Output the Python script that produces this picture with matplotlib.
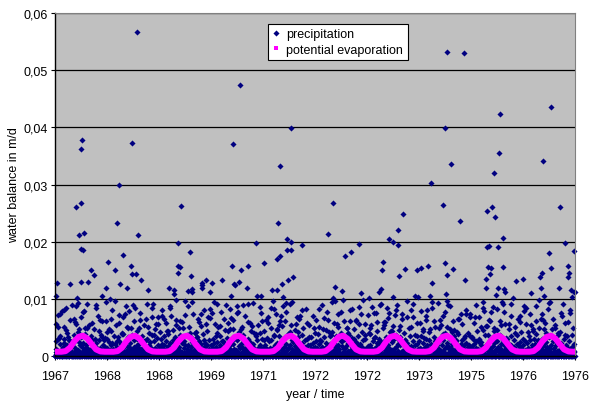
import numpy as np
import matplotlib.pyplot as plt
from matplotlib.lines import Line2D

plt.rcParams['font.family'] = ['Liberation Sans', 'DejaVu Sans']

# axis labels as Excel printed them (one tick every 365 days)
x_tick_labels = ['1967', '1968', '1968', '1969', '1971', '1972',
                 '1972', '1973', '1975', '1976', '1976']
y_tick_labels = ['0', '0,01', '0,02', '0,03', '0,04', '0,05', '0,06']
days_per_tick = 365

# heavy rain days (> 10 mm/d): day number since 1.1.1967, mm/d
storm_day = [9, 14, 103, 147, 157, 166, 180, 181, 183, 184,
             187, 199, 201, 232, 253, 276, 330, 356, 374, 388,
             423, 437, 451, 456, 480, 503, 531, 540, 541, 571,
             573, 583, 606, 653, 798, 833, 834, 861, 863, 866,
             877, 882, 936, 945, 952, 959, 960, 1032, 1033, 1034,
             1060, 1086, 1104, 1170, 1237, 1242, 1249, 1259, 1265, 1292,
             1301, 1303, 1350, 1357, 1409, 1418, 1448, 1469, 1523, 1556,
             1558, 1568, 1579, 1582, 1593, 1603, 1626, 1631, 1638, 1654,
             1656, 1659, 1671, 1734, 1914, 1951, 1953, 1967, 2014, 2035,
             2076, 2136, 2146, 2206, 2274, 2288, 2295, 2302, 2342, 2370,
             2372, 2408, 2409, 2412, 2443, 2455, 2525, 2541, 2548, 2567,
             2616, 2634, 2641, 2646, 2726, 2735, 2740, 2744, 2749, 2754,
             2782, 2791, 2841, 2869, 2880, 3023, 3025, 3032, 3033, 3042,
             3049, 3050, 3060, 3067, 3081, 3088, 3093, 3109, 3112, 3118,
             3121, 3142, 3145, 3149, 3157, 3217, 3236, 3285, 3341, 3406,
             3409, 3416, 3423, 3434, 3470, 3481, 3482, 3538, 3542, 3582,
             3601, 3602, 3608, 3622, 3631, 3641, 3645, 3649]
storm_mm = [10.5, 12.8, 12.6, 26.1, 10.1, 21.2, 36.2, 13.0, 26.7, 18.8,
            37.8, 18.5, 21.6, 13.0, 15.1, 14.2, 10.6, 11.9, 16.4, 10.0,
            15.0, 23.2, 30.0, 12.6, 17.7, 11.9, 15.7, 37.2, 14.4, 14.4,
            56.6, 21.1, 13.3, 11.5, 11.9, 11.6, 10.8, 15.8, 14.6, 19.7,
            15.6, 26.2, 11.4, 18.2, 14.0, 11.7, 11.3, 12.8, 12.5, 11.9,
            13.4, 11.2, 12.8, 13.4, 10.5, 15.7, 37.0, 12.7, 12.4, 13.0,
            47.3, 15.1, 11.9, 15.8, 19.8, 10.6, 10.6, 16.3, 11.6, 11.6,
            17.0, 23.3, 33.2, 17.6, 12.7, 10.4, 20.5, 18.5, 13.4, 39.9,
            18.5, 20.0, 13.8, 19.5, 21.3, 26.8, 10.2, 12.1, 11.4, 17.5,
            18.3, 19.6, 11.1, 10.1, 11.3, 11.7, 15.0, 16.4, 20.5, 10.4,
            20.0, 22.0, 19.5, 14.0, 24.9, 15.3, 10.5, 15.1, 10.4, 15.4,
            15.7, 10.5, 30.3, 12.8, 26.5, 39.8, 16.3, 10.8, 14.2, 53.2,
            33.5, 15.2, 23.6, 52.9, 13.3, 12.0, 13.5, 25.3, 19.0, 15.6,
            19.2, 14.3, 15.4, 26.0, 32.0, 24.4, 10.7, 11.9, 19.0, 35.5,
            42.3, 20.6, 15.6, 11.8, 11.2, 10.1, 13.2, 13.5, 11.1, 13.9,
            12.0, 14.6, 34.1, 10.6, 18.1, 43.5, 15.5, 11.9, 26.1, 19.8,
            15.7, 13.8, 14.6, 11.6, 10.4, 18.4, 11.2, 11.2]

# showers (2.5 - 10 mm/d) on odd days
shower_day = [22, 61, 75, 142, 163, 171, 196, 238, 290, 318,
              395, 418, 476, 505, 519, 560, 587, 640, 690, 712,
              752, 790, 811, 846, 874, 899, 931, 988, 1027, 1071,
              1116, 1161, 1189, 1228, 1246, 1279, 1316, 1367, 1394, 1440,
              1481, 1528, 1549, 1574, 1600, 1615, 1647, 1685, 1720, 1769,
              1851, 1889, 1921, 1944, 1979, 2010, 2046, 2071, 2110, 2160,
              2214, 2250, 2287, 2319, 2331, 2355, 2389, 2420, 2469, 2515,
              2580, 2613, 2660, 2688, 2711, 2737, 2760, 2787, 2825, 2882,
              2955, 2990, 3012, 3046, 3071, 3101, 3134, 3161, 3200, 3262,
              3307, 3352, 3399, 3420, 3441, 3463, 3495, 3531, 3566, 3618,
              7, 29, 48, 83, 99, 131, 148, 188, 209, 223, 257, 275, 303, 333, 357,
              368, 400, 433, 452, 467, 494, 513, 545, 573, 599, 625, 652, 678, 697, 723,
              741, 764, 783, 807, 833, 852, 880, 911, 945, 963, 999, 1013, 1047, 1061, 1088,
              1105, 1127, 1143, 1175, 1199, 1213, 1233, 1259, 1283, 1305, 1329, 1356, 1381, 1409, 1452,
              1467, 1494, 1515, 1539, 1559, 1584, 1606, 1622, 1655, 1669, 1696, 1709, 1737, 1784, 1817,
              1835, 1862, 1884, 1909, 1934, 1964, 1989, 2015, 2031, 2057, 2083, 2096, 2133, 2149, 2176,
              2201, 2226, 2245, 2262, 2283, 2307, 2343, 2362, 2397, 2409, 2433, 2456, 2483, 2500, 2544,
              2563, 2588, 2601, 2624, 2645, 2668, 2701, 2724, 2748, 2770, 2799, 2814, 2852, 2876, 2910,
              2930, 2951, 2979, 3001, 3024, 3036, 3058, 3079, 3092, 3120, 3146, 3172, 3186, 3231, 3266,
              3295, 3318, 3340, 3364, 3377, 3388, 3410, 3431, 3455, 3472, 3506, 3520, 3553, 3579, 3604]
shower_mm = [7.2, 5.1, 8.4, 6.0, 9.3, 4.7, 7.7, 5.5, 8.9, 6.3,
             4.4, 9.6, 6.8, 5.2, 7.9, 8.5, 4.9, 6.6, 9.1, 5.7,
             8.0, 4.5, 7.1, 9.8, 6.2, 5.0, 8.7, 4.3, 7.4, 6.9,
             9.4, 5.3, 6.5, 8.2, 4.8, 7.6, 9.0, 5.9, 4.1, 8.6,
             6.4, 9.7, 7.3, 5.4, 8.8, 6.1, 9.2, 4.6, 7.0, 5.8,
             8.3, 6.7, 4.2, 9.5, 5.6, 7.8, 4.9, 8.1, 6.3, 9.9,
             5.0, 7.5, 9.1, 6.0, 8.4, 4.4, 7.2, 5.3, 9.6, 6.8,
             4.7, 8.0, 6.2, 9.3, 5.5, 7.7, 8.9, 4.3, 6.6, 7.4,
             9.0, 5.1, 7.9, 6.4, 8.6, 4.6, 9.4, 5.7, 7.1, 6.0,
             8.5, 4.8, 9.8, 7.3, 5.9, 8.2, 6.5, 4.1, 9.2, 7.6,
             5.6, 3.2, 7.9, 4.1, 2.8, 6.5, 8.8, 3.6, 5.0, 9.2, 2.9, 4.7, 7.0, 3.4, 6.1,
             4.3, 8.1, 2.6, 5.8, 3.9, 7.4, 4.9, 9.0, 3.1, 6.3, 2.7, 5.2, 8.4, 3.7, 6.8,
             3.0, 6.6, 4.5, 8.7, 2.5, 5.4, 3.8, 7.2, 4.0, 9.4, 3.3, 6.0, 2.9, 5.7, 8.2,
             7.6, 3.5, 5.1, 2.7, 8.9, 4.4, 6.7, 3.0, 7.8, 4.8, 2.6, 9.1, 5.3, 3.9, 6.2,
             2.8, 5.9, 8.5, 3.6, 4.6, 7.1, 3.2, 9.3, 5.5, 2.5, 6.9, 4.2, 8.0, 3.4, 5.0,
             6.4, 2.9, 4.8, 7.7, 3.7, 9.6, 5.2, 2.6, 6.1, 4.0, 8.3, 3.1, 5.6, 7.3, 3.8,
             4.1, 8.6, 3.3, 6.0, 2.7, 5.4, 7.5, 4.5, 9.0, 3.0, 6.6, 2.8, 4.9, 8.1, 3.5,
             5.8, 3.2, 7.0, 4.3, 9.4, 2.6, 6.3, 3.9, 5.1, 8.8, 4.6, 2.9, 7.4, 3.6, 6.8,
             3.4, 6.9, 2.5, 8.4, 5.3, 3.8, 7.8, 4.4, 2.7, 6.2, 9.2, 3.1, 5.7, 4.0, 7.1,
             7.9, 4.2, 5.5, 3.0, 8.7, 2.8, 6.5, 4.7, 3.3, 9.5, 5.0, 2.6, 7.6, 3.7, 6.0]

# remaining rain, read every second day (mm/d)
light_step = 2
light_mm = [
    0, 0, .4, 1.3, 2.6, .8, 0, 0, 0, .3, 5.2, 3.1, 1.0, 0, .6, 0, 0, 2.2, 7.4, 3.6, 1.1, .5, 0, 0, 0, 0, .9, 1.7, .4, 0, 3.0, 8.1, 2.4, 0, .7, 1.5, 0, 0, .2, 0, 4.6, 1.9, .6, 0, 0, 1.2, 3.4, .5, 0, 0, 0, 2.7, 6.3, 1.4, .8, 0, .3, 1.0, 0, 0, 9.0,
    2.1, .5, 0, 0, 1.6, 3.8, .7, 0, 0, 0, .4, 2.9, 5.7, 1.3, 0, .6, 0, 0, 0, 1.1, .3, 4.2, 2.5, 0, 0, .8, 1.9, 0, 0, 0, 3.3, 6.8, 1.7, .4, 0, 0, 1.0, 2.3, .2, 0, 0, .5, 7.9, 3.9, 1.2, 0, 0, 0, .6, 2.0, .9, 0, 1.4, 4.9, .7, 0, 0, 0, .3, 2.6, 1.1,
    0, 0, .7, 3.5, 1.2, 0, 0, 5.9, 2.2, .6, 0, 0, 0, .4, 1.8, 0, .9, 3.1, 0, 0, 0, 2.4, 8.4, 1.6, .5, 0, 0, 1.3, .3, 0, 0, 4.4, 2.8, .8, 0, 0, .6, 1.5, 3.7, 0, 0, 0, .2, 1.1, 6.1, 2.0, .4, 0, 0, 0, 2.9, .7, 1.6, 0, 0, 3.2, 9.5, 1.0, 0, .5, 0,
    1.4, 3.0, .6, 0, 0, 0, .8, 2.5, 4.7, 1.1, 0, 0, .3, 0, 1.9, 6.6, 2.3, .5, 0, 0, 0, 1.2, .4, 0, 3.6, 1.0, 0, 0, .7, 2.2, 5.4, .9, 0, 0, 0, .5, 1.7, 3.3, 0, 0, 1.0, 7.2, 2.6, .3, 0, 0, 0, .9, 1.4, 0, 2.1, 4.1, .6, 0, 0, 0, 1.5, 3.9, .8, 0, .2,
    0, 0, 0, .6, 2.7, 8.8, 1.9, .4, 0, 0, 1.1, 3.4, .7, 0, 0, .5, 1.6, 0, 0, 0, 2.3, 5.0, 1.3, 0, .8, 0, 0, 3.8, 1.0, .3, 0, 0, 1.7, 6.2, 2.9, .6, 0, 0, 0, .4, 1.2, 0, 2.0, 4.5, .9, 0, 0, 0, .7, 3.1, 1.5, 0, 0, 7.6, 2.4, .5, 0, 1.3, 0, 0, .9,
    3.6, 1.2, 0, 0, .4, 2.1, 5.5, .8, 0, 0, 0, 1.4, .6, 2.8, 0, 0, .3, 9.2, 3.0, 1.1, 0, 0, 0, .7, 1.9, 4.0, .5, 0, 0, 1.6, 2.5, 0, 0, 0, .9, 3.7, 6.9, 1.3, 0, 0, .2, 1.0, 0, 0, 2.6, .8, 4.8, 1.5, 0, 0, 0, .6, 3.2, 1.1, 0, 0, 5.6, 2.0, .4, 0, 0,
    0, .8, 1.7, 4.3, .9, 0, 0, 0, 2.2, 7.0, 1.4, .3, 0, 0, 1.1, .5, 0, 3.5, 2.0, 0, 0, 0, .6, 1.3, 5.8, 2.7, 0, 0, .4, 0, 0, 1.8, 3.9, .7, 0, 0, .9, 2.4, 8.5, 1.0, 0, 0, 0, .3, 1.5, 0, 0, 2.9, 4.6, 1.2, .6, 0, 0, 0, 1.0, 3.3, .5, 0, 0, 6.4, 1.8,
    .5, 0, 0, 0, 1.2, 2.8, .7, 0, 4.9, 1.6, 0, 0, .3, 1.0, 3.1, 0, 0, 0, .8, 6.0, 2.3, .4, 0, 0, 1.4, .6, 0, 2.6, 9.6, 1.9, .5, 0, 0, 0, .7, 1.3, 3.8, 0, 0, .9, 2.0, .2, 0, 0, 5.1, 1.1, 0, 0, 0, 3.4, 1.7, .6, 0, 0, .4, 2.5, 7.3, 1.0, 0, 0, .8,
    0, 2.2, 4.0, 1.3, .5, 0, 0, 0, .9, 1.8, 0, 0, 3.3, 6.5, 1.0, 0, 0, .4, 1.5, 2.7, 0, 0, 0, .6, 5.3, 2.1, .8, 0, 0, 1.2, .3, 0, 0, 3.9, 8.0, 1.6, 0, 0, 0, .7, 2.4, .5, 0, 1.1, 0, 0, 4.4, 1.9, .6, 0, 0, 0, 2.9, 1.3, 0, 0, .5, 6.7, 2.0, .9, 0,
    1.0, .4, 0, 0, 3.0, 1.4, 0, 0, 0, .8, 2.3, 5.6, .6, 0, 0, 1.7, .3, 0, 0, 4.1, 9.1, 2.5, .9, 0, 0, 0, 1.2, .5, 0, 2.0, 3.6, 0, 0, .7, 1.4, 7.8, 1.1, 0, 0, 0, .4, 2.6, 1.0, 0, 0, .9, 4.6, 2.2, .3, 0, 0, 0, 1.6, 3.2, .8, 0, 0, 5.9, 1.5, 0, .6,
    0, 0, .3, 1.9, 4.8, 1.2, 0, 0, 0, 2.7, .6, 0, .9, 6.3, 2.1, .5, 0, 0, 0, 1.3, 3.4, .7, 0, 0, .4, 1.1, 0, 0, 8.7, 2.9, 1.0, 0, 0, 0, .6, 1.8, 4.2, .3, 0, 0, 1.4, 2.2, 0, 0, 0, .8, 5.2, 1.7, .4, 0, 0, 3.7, 1.2, 0, 0, 0, .5, 2.4, 7.1, 1.0, 0,
    .7, 1.5, 0, 0, 0, 3.1, 6.0, 1.3, .4, 0, 0, 1.0, 2.5, 0, 0, .6, 0, 4.5, 1.8, 0, 0, 0, .3, 2.2, 9.3, 1.6, .5, 0, 0, 1.2, .7, 0, 0, 3.6, 1.1, 0, 0, 0, .9, 2.8, 5.5, .6, 0, 0, 1.7, .4, 0, 2.0, 0, 0, 4.0, 7.5, 1.4, 0, 0, 0, .8, 3.0, 1.1, .3, 0,
    0, 0, 1.6, 4.4, 2.0, .5, 0, 0, .9, 0, 0, 3.2, 1.2, 0, 0, 0, .6, 6.8, 2.6, 1.0, 0, 0, 1.4, .3, 0, 2.9, 5.0, .8, 0, 0, 0, 1.1, .5, 0, 0, 3.8, 8.2, 1.7, .4, 0, 0, 1.9, .7, 0, 0, 0, 2.4, 1.0, 4.7, .6, 0, 0, 0, 1.3, 3.5, 0, 0, .4, 6.1, 2.1, 0,
    1.2, .6, 0, 0, 2.5, 5.3, 1.1, 0, 0, 0, .4, 1.7, 3.0, 0, 0, .8, 0, 7.7, 2.2, .9, 0, 0, 0, 1.5, .3, 0, 3.9, 1.4, 0, 0, .6, 2.0, 4.3, 0, 0, 0, .5, 1.3, 9.4, 2.8, .7, 0, 0, 0, 1.0, .4, 0, 2.6, 1.8, 0, 0, 5.7, 1.2, .3, 0, 0, 0, .9, 3.3, 1.6, 0,
    0, .5, 2.1, 6.6, 1.5, 0, 0, 0, .8, 1.2, 0, 0, 3.7, 2.4, .6, 0, 0, 1.0, 4.9, 0, 0, 0, .3, 1.6, 2.8, .9, 0, 0, 8.3, 3.1, 1.1, 0, 0, 0, .7, 1.9, 0, 0, .4, 5.4, 2.0, 0, 0, 0, 1.3, .6, 3.4, 0, 0, .9, 0, 2.3, 7.0, 1.4, 0, 0, 0, .5, 1.7, 4.1, .8,
    2.6, 1.0, 0, 0, 0, .4, 1.4, 3.9, .7, 0, 0, 5.1, 2.2, .5, 0, 0, 1.1, .3, 0, 0, 2.7, 8.9, 1.6, 0, 0, 0, .8, 1.5, .4, 0, 3.3, 1.2, 0, 0, 0, .6, 4.6, 2.4, .9, 0, 0, 1.8, 0, 0, 6.4, 1.3, .5, 0, 0, 0, 2.1, 3.6, .7, 0, 0, 1.0, 0, 0, 4.2, 1.9, .3,
    0, 0, .9, 2.3, 5.8, 1.2, 0, 0, .5, 0, 1.6, 3.5, 0, 0, 0, .7, 2.0, 7.3, 1.1, .4, 0, 0, 1.3, .6, 0, 0, 4.0, 2.6, 0, 0, 0, .3, 1.8, 9.8, 2.9, .8, 0, 0, 0, 1.2, .5, 0, 3.1, 1.5, 0, 0, .6, 5.0, 1.9, 0, 0, 0, .9, 2.4, .4, 0, 0, 3.8, 6.2, 1.0, 0,
    .6, 1.1, 0, 0, 3.2, 1.6, .4, 0, 0, 0, 2.2, 4.8, .9, 0, 0, 1.4, .3, 0, 6.1, 2.5, 1.0, 0, 0, 0, .7, 1.9, 0, 0, 3.6, 8.6, 1.3, .5, 0, 0, 1.0, 2.1, 0, 0, 0, .4, 4.3, 1.7, .6, 0, 0, 2.8, .8, 0, 0, 0, 1.2, 5.6, 3.0, .3, 0, 0, .9, 1.5, 0, 0, 7.2,
    1.8, .5, 0, 0, 0, 1.2, 3.9, 2.0, 0, 0, .6, 5.5, 1.4, .3, 0, 0, 0, .9, 2.6, 0, 0, 1.3, 7.6, 3.2, .7, 0, 0, 0, .4, 1.6, 0, 0, 2.3, 4.5, 1.0, 0, 0, .8, 0, 0, 3.0, 9.0, 1.9, .6, 0, 0, 0, 1.1, 2.4, .3, 0, 0, 4.9, 1.5, 0, 0, .5, 2.7, 6.0, 1.2, 0,
    0, 0, .4, 1.7, 3.4, .8, 0, 0, 0, 2.0, 6.7, 1.5, 0, 0, .9, .3, 0, 1.2, 4.2, 0, 0, 0, .6, 2.5, 1.1, 0, 0, 5.3, 2.9, .7, 0, 0, 0, 1.4, .4, 0, 3.7, 8.1, 1.6, 0, 0, 0, .8, 2.2, 0, 0, 1.0, 4.6, .5, 0, 0, 0, 1.9, 3.3, .6, 0, 0, 7.4, 2.1, .9, 0,
    .8, 2.3, 0, 0, 0, 1.1, 4.1, .5, 0, 0, 2.8, 1.4, 0, 0, .3, 6.9, 2.4, 1.0, 0, 0, 0, .7, 1.6, 0, 0, 3.5, .9, 0, 0, 5.2, 1.8, .4, 0, 0, 0, 1.2, 2.7, 9.2, 1.0, 0, 0, .6, 0, 0, 1.9, 3.8, .7, 0, 0, 0, .4, 2.1, 5.8, 1.3, 0, 0, 0, 1.0, 2.6, .5, 0,
    0, 1.5, 3.6, 7.9, 1.2, 0, 0, 0, .5, 1.0, 0, 2.4, 4.4, .8, 0, 0, 0, 1.7, .3, 0, 0, 3.1, 6.4, 2.0, .6, 0, 0, 1.1, 0, 0, .7, 2.9, 0, 0, 4.7, 1.5, .4, 0, 0, 0, 2.2, 8.4, 1.3, 0, 0, .9, 0, 0, 3.4, 1.0, 0, 0, .6, 1.8, 5.1, 2.5, 0, 0, 0, .4, 1.2,
    2.0, .7, 0, 0, 1.3, 5.0, 2.6, .4, 0, 0, 0, 1.0, 3.3, 0, 0, .8, 1.9, 0, 0, 7.1, 2.8, .9, 0, 0, 0, .5, 1.4, 0, 4.0, 1.6, 0, 0, 0, .3, 2.3, 9.7, 1.8, .6, 0, 0, 1.2, 0, 0, 3.0, 4.8, .7, 0, 0, 0, 1.5, 2.1, .4, 0, 0, 6.2, 1.1, 0, 0, .8, 3.5, 0,
    0, 0, 1.1, 2.7, .5, 0, 0, 4.3, 1.7, 0, 0, 0, .6, 3.9, 6.5, 1.2, 0, 0, .4, 1.0, 0, 2.2, 0, 0, 5.6, 2.9, .8, 0, 0, 0, 1.4, .3, 0, 3.2, 1.9, 0, 0, .7, 8.0, 2.4, 1.0, 0, 0, 0, .5, 1.6, 4.1, 0, 0, .9, 2.0, 0, 0, 0, 3.6, 7.3, 1.3, .4, 0, 0, 1.8,
    .4, 1.2, 3.0, 0, 0, 0, .8, 5.9, 2.1, .6, 0, 0, 1.5, .3, 0, 2.6, 4.4, 0, 0, 0, .9, 1.3, 0, 0, 6.8, 3.1, 1.0, 0, 0, .5, 0, 1.9, 2.5, .7, 0, 0, 0, 4.6, 9.5, 1.4, 0, 0, .6, 1.1, 0, 0, 3.7, 2.0, .3, 0, 0, 0, 1.6, 5.3, .9, 0, 0, 2.4, 1.0, 0, .5,
    0, 2.9, 6.2, 1.5, .4, 0, 0, 0, 1.0, .6, 0, 3.4, 1.8, 0, 0, .7, 2.3, 4.9, 0, 0, 0, 1.2, .3, 0, 0, 8.2, 2.7, 1.1, 0, 0, .9, 1.6, 0, 0, 0, 3.8, .5, 0, 1.4, 5.4, 2.2, 0, 0, 0, .6, 1.0, 0, 0, 2.8, 7.7, 1.9, .4, 0, 0, 1.3, .7, 0, 3.2, 1.1, 0, 0,
    1.6, .5, 0, 0, 0, 2.4, 4.7, 1.0, 0, 0, .8, 1.4, 0, 0, 3.5, 9.1, 2.0, .6, 0, 0, 0, 1.2, .4, 0, 2.9, 1.7, 0, 0, 5.1, 1.3, 0, 0, 0, .7, 2.2, 3.7, .3, 0, 0, 1.0, 6.6, 1.8, 0, 0, 0, .5, 2.5, .9, 0, 0, 4.3, 1.4, 0, 0, 0, 1.9, 3.0, .6, 0, 0, 8.8,
    0, 1.1, 2.6, .4, 0, 0, 0, 5.7, 2.3, .9, 0, 0, 1.5, .3, 0, 0, 3.6, 1.2, 0, .6, 7.4, 2.8, 1.0, 0, 0, 0, .7, 1.9, 0, 0, 4.5, 1.6, .5, 0, 0, 1.3, 2.1, 0, 0, 0, .4, 3.9, 6.1, 1.4, 0, 0, .9, 0, 0, 2.7, 1.0, 0, 0, 5.0, 1.7, .3, 0, 0, 0, 1.2, 2.4,
    3.1, .8, 0, 0, .5, 1.8, 6.4, 2.2, 0, 0, 0, 1.1, .4, 0, 2.5, 4.0, .7, 0, 0, 0, 1.6, .9, 0, 0, 3.4, 9.3, 1.5, .6, 0, 0, 1.2, 0, 0, 2.0, .5, 0, 0, 4.8, 2.6, .8, 0, 0, 0, 1.4, 3.2, 0, 0, .7, 5.5, 1.9, .4, 0, 0, 0, 1.0, 2.3, 0, 0, 3.7, 1.1, 0,
    0, .6, 1.9, 4.2, 1.0, 0, 0, 0, 2.4, 7.1, 1.6, .3, 0, 0, 1.2, .5, 0, 3.0, 1.4, 0, 0, .8, 5.8, 2.0, 0, 0, 0, .4, 1.7, 3.5, .9, 0, 0, 1.1, 0, 0, 2.6, 8.0, 1.3, .5, 0, 0, 0, 1.5, 3.8, .6, 0, 0, 4.9, 1.8, 0, 0, .7, 2.2, 1.0, 0,
]

# potential evaporation, same seasonal cycle each year (mm/d at mid-month)
evap_month_mm = [0.8, 0.8, 0.9, 1.5, 2.6, 3.4, 3.6, 3.1, 2.1, 1.2, 0.85, 0.8]
month_mid_day = [15, 45, 74, 105, 135, 166, 196, 227, 258, 288, 319, 349]
n_years = 10

# ---- build series ----
light_day = np.arange(len(light_mm)) * light_step
precip_day = np.concatenate([light_day, shower_day, storm_day])
precip = np.concatenate([light_mm, shower_mm, storm_mm]) / 1000.0

evap_day = (np.arange(n_years)[:, None] * 365 + np.array(month_mid_day)[None, :]).ravel()
evap = np.tile(evap_month_mm, n_years) / 1000.0
evap_day = np.concatenate([[0], evap_day, [n_years * 365]])
evap = np.concatenate([[evap[0]], evap, [evap[-1]]])

# ---- plot ----
fig = plt.figure(figsize=(5.89, 4.02), dpi=100)
ax = fig.add_axes([0.0934, 0.1112, 0.8829, 0.8547])
ax.set_facecolor('#C0C0C0')

ax.plot(precip_day, precip, ls='none', marker='D', ms=3.1,
        mfc='#000080', mec='#000080', mew=0, clip_on=False, zorder=2)
ax.plot(evap_day, evap, color='#FF00FF', lw=4.3, zorder=3)

ax.set_xlim(0, n_years * 365)
ax.set_ylim(0, 0.06)
ax.set_xticks(np.arange(len(x_tick_labels)) * days_per_tick)
ax.set_xticklabels(x_tick_labels)
ax.set_yticks(np.arange(len(y_tick_labels)) * 0.01)
ax.set_yticklabels(y_tick_labels)
ax.tick_params(axis='both', labelsize=9, direction='out', length=3, width=0.8, color='black')
ax.tick_params(axis='x', pad=7)
ax.tick_params(axis='y', pad=2)

ax.yaxis.grid(True, color='black', lw=0.9)
ax.set_axisbelow(True)
for s in ['top', 'right']:
    ax.spines[s].set_color('#808080')
    ax.spines[s].set_linewidth(0.8)
for s in ['left', 'bottom']:
    ax.spines[s].set_color('black')
    ax.spines[s].set_linewidth(1.0)

ax.set_xlabel('year / time', fontsize=9, labelpad=4)
ax.set_ylabel('water balance in m/d', fontsize=9, labelpad=3)

h1 = Line2D([], [], ls='none', marker='D', ms=3.1, color='#000080', mew=0)
h2 = Line2D([], [], ls='none', marker='s', ms=3.5, color='#FF00FF', mew=0)
leg = ax.legend([h1, h2], ['precipitation', 'potential evaporation'],
                loc='upper left', bbox_to_anchor=(0.41, 0.968), borderaxespad=0,
                fontsize=9, frameon=True, fancybox=False, framealpha=1,
                edgecolor='black', handlelength=0.6, handletextpad=0.5,
                borderpad=0.35, labelspacing=0.3)
leg.get_frame().set_linewidth(0.8)

fig.savefig('out.png', dpi=100)
